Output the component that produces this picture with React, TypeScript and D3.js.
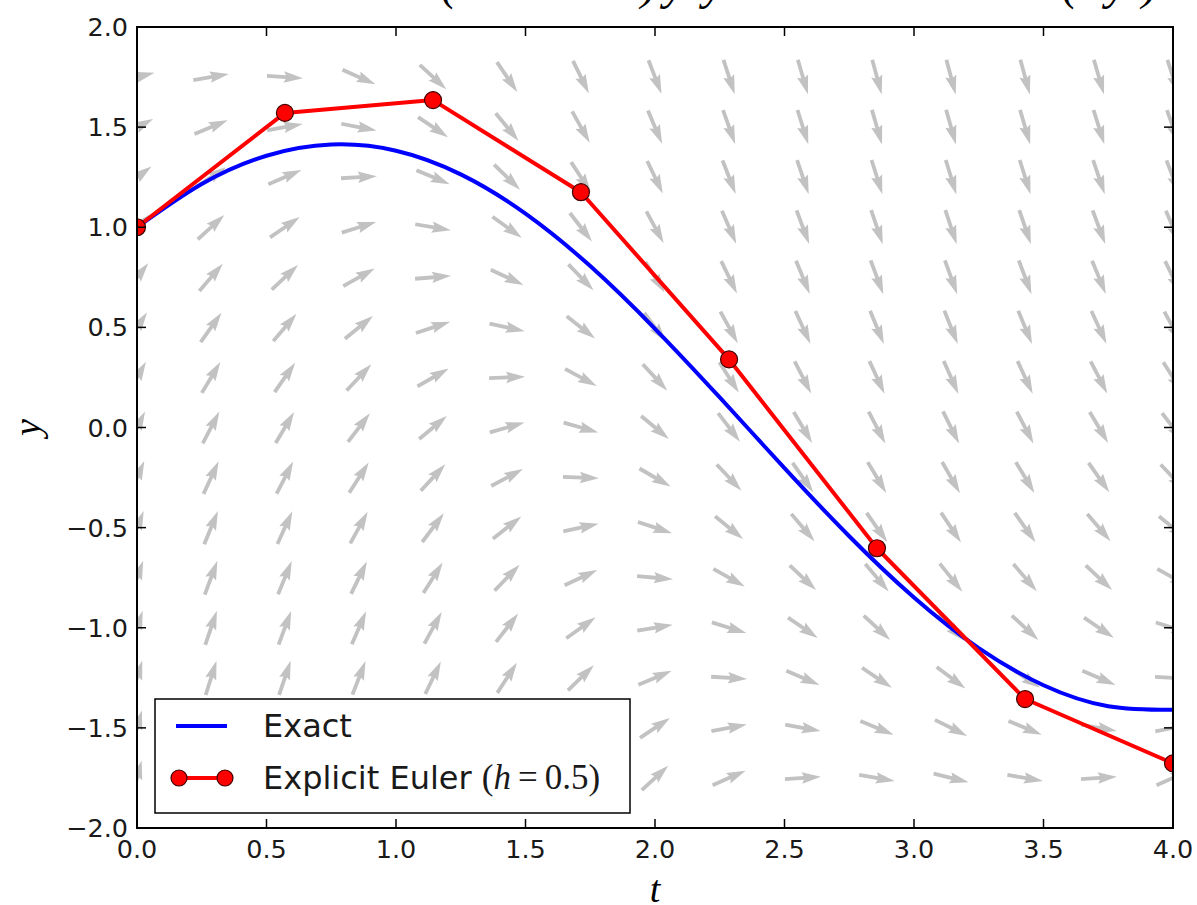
import React from "react";
import * as d3 from "d3";

// ---------- data ----------
const xTicks = [0, 0.5, 1, 1.5, 2, 2.5, 3, 3.5, 4];
const xTickLabels = ["0.0", "0.5", "1.0", "1.5", "2.0", "2.5", "3.0", "3.5", "4.0"];
const yTicks = [-2, -1.5, -1, -0.5, 0, 0.5, 1, 1.5, 2];
const yTickLabels = ["\u22122.0", "\u22121.5", "\u22121.0", "\u22120.5", "0.0", "0.5", "1.0", "1.5", "2.0"];

// exact solution samples
const exactT = [0, 0.25, 0.5, 0.75, 1.0, 1.25, 1.5, 1.75, 2.0, 2.25, 2.5, 2.75, 3.0, 3.25, 3.5, 3.75, 4.0];
const exactY = [1.0, 1.216, 1.357, 1.413, 1.382, 1.264, 1.068, 0.806, 0.493, 0.15, -0.203, -0.543, -0.849, -1.102, -1.287, -1.392, -1.41];

// explicit Euler points
const eulerT = [0, 0.571, 1.143, 1.714, 2.286, 2.857, 3.429, 4.0];
const eulerY = [1.0, 1.571, 1.635, 1.175, 0.34, -0.603, -1.356, -1.677];

// direction field grid
const fieldT = [0, 0.286, 0.571, 0.857, 1.143, 1.429, 1.714, 2.0, 2.286, 2.571, 2.857, 3.143, 3.429, 3.714, 4.0];
const fieldY = [1.75, 1.5, 1.25, 1.0, 0.75, 0.5, 0.25, 0, -0.25, -0.5, -0.75, -1.0, -1.25, -1.5, -1.75];
const fieldSlope = [
  [0.25, 0.169, -0.068, -0.441, -0.919, -1.467, -2.036, -2.582, -3.06, -3.433, -3.671, -3.75, -3.667, -3.429, -3.057],
  [0.5, 0.419, 0.182, -0.191, -0.669, -1.217, -1.786, -2.332, -2.81, -3.183, -3.421, -3.5, -3.417, -3.179, -2.807],
  [0.75, 0.669, 0.432, 0.059, -0.419, -0.967, -1.536, -2.082, -2.56, -2.933, -3.171, -3.25, -3.167, -2.929, -2.557],
  [1.0, 0.919, 0.682, 0.309, -0.169, -0.717, -1.286, -1.832, -2.31, -2.683, -2.921, -3.0, -2.917, -2.679, -2.307],
  [1.25, 1.169, 0.932, 0.559, 0.081, -0.467, -1.036, -1.582, -2.06, -2.433, -2.671, -2.75, -2.667, -2.429, -2.057],
  [1.5, 1.419, 1.182, 0.809, 0.331, -0.217, -0.786, -1.332, -1.81, -2.183, -2.421, -2.5, -2.417, -2.179, -1.807],
  [1.75, 1.669, 1.432, 1.059, 0.581, 0.033, -0.536, -1.082, -1.56, -1.933, -2.171, -2.25, -2.167, -1.929, -1.557],
  [2.0, 1.919, 1.682, 1.309, 0.831, 0.283, -0.286, -0.832, -1.31, -1.683, -1.921, -2.0, -1.917, -1.679, -1.307],
  [2.25, 2.169, 1.932, 1.559, 1.081, 0.533, -0.036, -0.582, -1.06, -1.433, -1.671, -1.75, -1.667, -1.429, -1.057],
  [2.5, 2.419, 2.182, 1.809, 1.331, 0.783, 0.214, -0.332, -0.81, -1.183, -1.421, -1.5, -1.417, -1.179, -0.807],
  [2.75, 2.669, 2.432, 2.059, 1.581, 1.033, 0.464, -0.082, -0.56, -0.933, -1.171, -1.25, -1.167, -0.929, -0.557],
  [3.0, 2.919, 2.682, 2.309, 1.831, 1.283, 0.714, 0.168, -0.31, -0.683, -0.921, -1.0, -0.917, -0.679, -0.307],
  [3.25, 3.169, 2.932, 2.559, 2.081, 1.533, 0.964, 0.418, -0.06, -0.433, -0.671, -0.75, -0.667, -0.429, -0.057],
  [3.5, 3.419, 3.182, 2.809, 2.331, 1.783, 1.214, 0.668, 0.19, -0.183, -0.421, -0.5, -0.417, -0.179, 0.193],
  [3.75, 3.669, 3.432, 3.059, 2.581, 2.033, 1.464, 0.918, 0.44, 0.067, -0.171, -0.25, -0.167, 0.071, 0.443],
];

const legendLabels = ["Exact", "Explicit Euler "];

// ---------- layout ----------
const W = 1197;
const H = 905;
const L = 137, R = 1173, T = 27, B = 828;

export default function App() {
  const x = d3.scaleLinear().domain([0, 4]).range([L, R]);
  const y = d3.scaleLinear().domain([-2, 2]).range([B, T]);

  const exactLine = d3
    .line<number>()
    .x((_, i) => x(exactT[i]))
    .y((d) => y(d))
    .curve(d3.curveNatural)(exactY) as string;

  const eulerLine = d3
    .line<number>()
    .x((_, i) => x(eulerT[i]))
    .y((d) => y(d))(eulerY) as string;

  // arrow polygon (pivot at middle), matplotlib quiver-like proportions
  const aLen = 36;
  const w = 3.8;
  const arrowPts: [number, number][] = [
    [-aLen / 2, -w / 2],
    [aLen / 2 - 4.5 * w, -w / 2],
    [aLen / 2 - 5 * w, -1.5 * w],
    [aLen / 2, 0],
    [aLen / 2 - 5 * w, 1.5 * w],
    [aLen / 2 - 4.5 * w, w / 2],
    [-aLen / 2, w / 2],
  ];
  const arrowPath = "M" + arrowPts.map((p) => p.join(",")).join("L") + "Z";

  const tickFont = "'DejaVu Sans', sans-serif";
  const mathFont = "'Liberation Serif', 'DejaVu Serif', serif";

  return (
    <svg
      width={W}
      height={H}
      style={{ position: "absolute", left: 0, top: 0, background: "#fff" }}
    >
      <defs>
        <clipPath id="plotClip">
          <rect x={L} y={T} width={R - L} height={B - T} />
        </clipPath>
      </defs>
      <rect x={0} y={0} width={W} height={H} fill="#fff" />

      {/* partially visible title (cut off at the top, as in the source image) */}
      <text fontFamily={mathFont} fontStyle="italic" fontSize={48} y={-1} fill="#000">
        <tspan x={441}>(</tspan>
        <tspan x={641}>)</tspan>
        <tspan x={664}>y</tspan>
        <tspan x={703}>y</tspan>
        <tspan x={1062}>(</tspan>
        <tspan x={1106}>y</tspan>
        <tspan x={1142}>)</tspan>
      </text>

      <g clipPath="url(#plotClip)">
        {/* direction field */}
        <g fill="#c2c2c2">
          {fieldY.map((yy, j) =>
            fieldT.map((tt, i) => {
              const ang = (-Math.atan(fieldSlope[j][i]) * 180) / Math.PI;
              return (
                <path
                  key={`a${j}-${i}`}
                  d={arrowPath}
                  transform={`translate(${x(tt)},${y(yy)}) rotate(${ang})`}
                />
              );
            })
          )}
        </g>
        {/* exact */}
        <path d={exactLine} fill="none" stroke="#0000ff" strokeWidth={4} />
        {/* euler */}
        <path d={eulerLine} fill="none" stroke="#ff0000" strokeWidth={4} strokeLinejoin="round" />
        {eulerY.map((v, i) => (
          <circle key={`m${i}`} cx={x(eulerT[i])} cy={y(v)} r={8.5} fill="#ff0000" stroke="#400000" strokeWidth={1.2} />
        ))}
      </g>

      {/* frame */}
      <rect x={L} y={T} width={R - L} height={B - T} fill="none" stroke="#000" strokeWidth={2} />

      {/* ticks */}
      <g stroke="#000" strokeWidth={1.5}>
        {xTicks.map((t, i) => (
          <g key={`xt${i}`}>
            <line x1={x(t)} x2={x(t)} y1={B} y2={B - 9} />
            <line x1={x(t)} x2={x(t)} y1={T} y2={T + 9} />
          </g>
        ))}
        {yTicks.map((t, i) => (
          <g key={`yt${i}`}>
            <line x1={L} x2={L + 9} y1={y(t)} y2={y(t)} />
            <line x1={R} x2={R - 9} y1={y(t)} y2={y(t)} />
          </g>
        ))}
      </g>

      {/* tick labels */}
      <g fontFamily={tickFont} fontSize={25.5} fill="#1a1a1a">
        {xTicks.map((t, i) => (
          <text key={`xl${i}`} x={x(t)} y={858} textAnchor="middle">
            {xTickLabels[i]}
          </text>
        ))}
        {yTicks.map((t, i) => (
          <text key={`yl${i}`} x={128} y={y(t) + 9} textAnchor="end">
            {yTickLabels[i]}
          </text>
        ))}
      </g>

      {/* axis labels */}
      <text x={655} y={902} textAnchor="middle" fontFamily={mathFont} fontStyle="italic" fontSize={38}>
        t
      </text>
      <text
        transform={`translate(40,${y(0)}) rotate(-90)`}
        textAnchor="middle"
        fontFamily={mathFont}
        fontStyle="italic"
        fontSize={38}
      >
        y
      </text>

      {/* legend */}
      <g>
        <rect x={155} y={699} width={475} height={114} fill="#fff" stroke="#000" strokeWidth={1.5} />
        <line x1={176} x2={227} y1={726} y2={726} stroke="#0000ff" strokeWidth={4} />
        <text x={263} y={737} fontFamily={tickFont} fontSize={32} fill="#1a1a1a">
          {legendLabels[0]}
        </text>
        <line x1={179} x2={225} y1={778} y2={778} stroke="#ff0000" strokeWidth={4} />
        <circle cx={179} cy={778} r={8} fill="#ff0000" stroke="#400000" strokeWidth={1.2} />
        <circle cx={225} cy={778} r={8} fill="#ff0000" stroke="#400000" strokeWidth={1.2} />
        <text x={263} y={789} fontFamily={tickFont} fontSize={32} fill="#1a1a1a">
          {legendLabels[1]}
          <tspan fontFamily={mathFont} fontSize={35}>(</tspan>
          <tspan fontFamily={mathFont} fontStyle="italic" fontSize={35}>h</tspan>
          <tspan fontFamily={mathFont} fontSize={35}>{"\u2009=\u20090.5)"}</tspan>
        </text>
      </g>
    </svg>
  );
}
